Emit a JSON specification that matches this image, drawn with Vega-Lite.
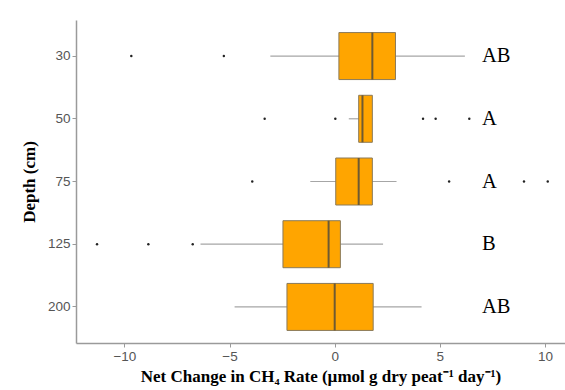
{
  "$schema": "https://vega.github.io/schema/vega-lite/v6.json",
  "width": 489,
  "height": 323,
  "autosize": {"type": "none"},
  "padding": {"left": 76, "top": 20, "right": 0, "bottom": 47},
  "background": "white",
  "config": {
    "view": {"stroke": null},
    "axis": {
      "grid": false,
      "domainColor": "#9a9a9a",
      "domainWidth": 1.5,
      "tickColor": "#9a9a9a",
      "tickSize": 4,
      "labelColor": "#555555",
      "labelFont": "Liberation Sans",
      "labelFontSize": 13.5,
      "labelPadding": 2,
      "titleFont": "Liberation Serif",
      "titleFontWeight": "bold",
      "titleFontSize": 17,
      "titleColor": "black"
    }
  },
  "datasets": {
    "stats": [
      {"depth": "30", "lo": -3.06, "q1": 0.2, "med": 1.79, "q3": 2.89, "hi": 6.19, "label": "AB"},
      {"depth": "50", "lo": 0.67, "q1": 1.14, "med": 1.32, "q3": 1.79, "hi": 1.79, "label": "A"},
      {"depth": "75", "lo": -1.16, "q1": 0.05, "med": 1.14, "q3": 1.79, "hi": 2.94, "label": "A"},
      {"depth": "125", "lo": -6.38, "q1": -2.46, "med": -0.29, "q3": 0.27, "hi": 2.3, "label": "B"},
      {"depth": "200", "lo": -4.76, "q1": -2.27, "med": 0.0, "q3": 1.83, "hi": 4.13, "label": "AB"}
    ],
    "outliers": [
      {"depth": "30", "value": -9.67},
      {"depth": "30", "value": -5.27},
      {"depth": "50", "value": -3.33},
      {"depth": "50", "value": 0.03},
      {"depth": "50", "value": 4.2},
      {"depth": "50", "value": 4.8},
      {"depth": "50", "value": 6.4},
      {"depth": "75", "value": -3.92},
      {"depth": "75", "value": 5.44},
      {"depth": "75", "value": 9.0},
      {"depth": "75", "value": 10.13},
      {"depth": "125", "value": -11.3},
      {"depth": "125", "value": -8.86},
      {"depth": "125", "value": -6.75}
    ]
  },
  "encoding": {
    "y": {
      "field": "depth",
      "type": "nominal",
      "sort": ["30", "50", "75", "125", "200"],
      "scale": {"type": "band", "paddingInner": 0, "paddingOuter": 0.075},
      "axis": {"title": "Depth (cm)", "titlePadding": 9}
    }
  },
  "layer": [
    {
      "data": {"name": "stats"},
      "mark": {"type": "rule", "color": "#a6a6a6", "strokeWidth": 1.2},
      "encoding": {
        "x": {
          "field": "lo",
          "type": "quantitative",
          "scale": {"domain": [-12.3, 10.95], "nice": false, "zero": false},
          "axis": {"values": [-10, -5, 0, 5, 10], "title": "Net Change in CH₄ Rate (µmol g dry peat⁻¹ day⁻¹)", "titlePadding": 6}
        },
        "x2": {"field": "hi"}
      }
    },
    {
      "data": {"name": "stats"},
      "mark": {"type": "bar", "color": "#FFA500", "stroke": "#8a7a5a", "strokeWidth": 1, "size": 47},
      "encoding": {
        "x": {"field": "q1", "type": "quantitative"},
        "x2": {"field": "q3"}
      }
    },
    {
      "data": {"name": "stats"},
      "mark": {"type": "tick", "color": "#6e5a32", "thickness": 2, "size": 47, "orient": "vertical", "opacity": 1},
      "encoding": {
        "x": {"field": "med", "type": "quantitative"}
      }
    },
    {
      "data": {"name": "outliers"},
      "mark": {"type": "point", "filled": true, "color": "#222222", "size": 6, "opacity": 1},
      "encoding": {
        "x": {"field": "value", "type": "quantitative"}
      }
    },
    {
      "data": {"name": "stats"},
      "mark": {"type": "text", "align": "left", "baseline": "middle", "font": "Liberation Serif", "fontSize": 20.5, "color": "black"},
      "encoding": {
        "x": {"datum": 7.0, "type": "quantitative"},
        "text": {"field": "label"}
      }
    }
  ]
}
